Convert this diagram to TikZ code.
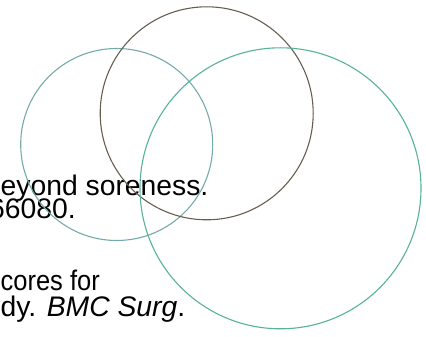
\documentclass[tikz,border=0pt]{standalone}
\usepackage{fontspec}
\setmainfont{Liberation Sans}
\usepackage{tikz}
\definecolor{ringleft}{RGB}{118,170,170}
\definecolor{ringtop}{RGB}{104,94,80}
\definecolor{ringright}{RGB}{86,178,152}

\begin{document}
\begin{tikzpicture}[x=1pt, y=-1pt,
    ring/.style={circle, draw, line width=1.1pt, inner sep=0pt},
    refline/.style={anchor=base west, inner sep=0pt, font=\fontsize{28.3}{30}\selectfont}]
   \useasboundingbox (0,0) rectangle (426,337);
   \clip (0,0) rectangle (426,337);

   % text of the reference list, cut at the left edge
   \node[refline] (l_1) at (0.5,195.8) {eyond soreness.};
   \node[refline] (l_2) at (-11,218.5) {66080.};
   \node[refline] (l_3) at (0.5,290.2) {\scalebox{0.9}[1]{cores for}};
   \node[refline] (l_4) at (0.5,316.5) {dy. \textit{BMC Surg}.};

   % the three rings
   \node[ring, draw=ringleft, minimum size=192pt] (r_left) at (116.7,144.5) {};
   \node[ring, draw=ringtop, minimum size=213pt] (r_top) at (206.7,113.3) {};
   \node[ring, draw=ringright, minimum size=281pt] (r_right) at (280.5,188.3) {};
\end{tikzpicture}
\end{document}
